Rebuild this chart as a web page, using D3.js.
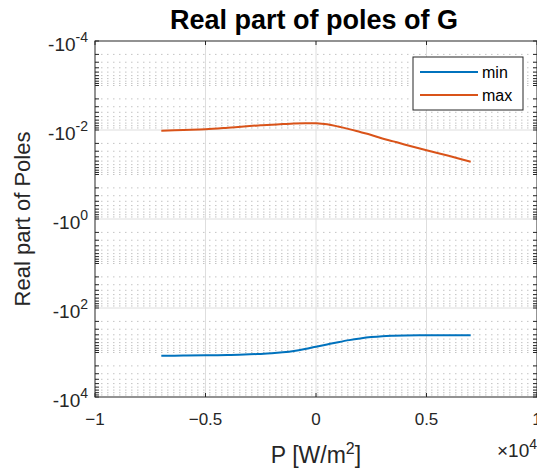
<!DOCTYPE html>
<html>
<head>
<meta charset="utf-8">
<script src="https://cdn.jsdelivr.net/npm/d3@7"></script>
<style>
  body { margin: 0; background: #fff; }
  svg { display: block; font-family: "Liberation Sans", Arial, sans-serif; }
</style>
</head>
<body>
<div id="chart"></div>
<script>
// data (P in W/m^2, real part of poles)
const powers = [-7000, -6000, -5000, -4000, -3000, -2500, -2000, -1500, -1000, -500, 0, 500, 1000, 1500, 2000, 2500, 3000, 3500, 4000, 5000, 6000, 7000];
const minPoles = [-1180, -1175, -1156, -1138, -1096, -1074, -1042, -991, -925, -836, -741, -658, -586, -527, -483, -450, -429, -419, -413, -410, -410, -410];
const maxPoles = [-0.0104, -0.0100, -0.00964, -0.00891, -0.00813, -0.00785, -0.00760, -0.00736, -0.00714, -0.00705, -0.00708, -0.00745, -0.00834, -0.00955, -0.0111, -0.0129, -0.0155, -0.0180, -0.0211, -0.0285, -0.0380, -0.0515];
const seriesNames = ["min", "max"];
const seriesColors = ["#0072BD", "#D95319"];
const xTicks = [-10000, -5000, 0, 5000, 10000];
const yTickExps = [-4, -2, 0, 2, 4];

const W = 537, H = 470;
const margin = { top: 41, right: 0, bottom: 73, left: 95 },
      width = 442,
      height = H - margin.top - margin.bottom;

const svg = d3.select("#chart").append("svg")
  .attr("width", W).attr("height", H);

const g = svg.append("g")
  .attr("transform", `translate(${margin.left},${margin.top})`);

const x = d3.scaleLinear().domain([-10000, 10000]).range([0, width]);
const y = d3.scaleLog().domain([-1e4, -1e-4]).range([height, 0]);

// minor grid values: every m*10^k
const minorVals = [];
for (let k = -4; k < 4; k++) {
  for (let m = 1; m <= 9; m++) {
    if (m === 1 && k % 2 === 0) continue;
    minorVals.push(-m * Math.pow(10, k));
  }
}

// minor grid (dotted)
g.append("g").selectAll("line")
  .data(minorVals)
  .enter().append("line")
  .attr("x1", 0).attr("x2", width)
  .attr("y1", d => y(d)).attr("y2", d => y(d))
  .attr("stroke", "#c4c4c4")
  .attr("stroke-width", 1)
  .attr("stroke-dasharray", "1.5,4.5");

// major grid
g.append("g").selectAll("line")
  .data(yTickExps.slice(1, -1))
  .enter().append("line")
  .attr("x1", 0).attr("x2", width)
  .attr("y1", d => y(-Math.pow(10, d))).attr("y2", d => y(-Math.pow(10, d)))
  .attr("stroke", "#dedede").attr("stroke-width", 1);

g.append("g").selectAll("line")
  .data(xTicks.slice(1, -1))
  .enter().append("line")
  .attr("x1", d => x(d)).attr("x2", d => x(d))
  .attr("y1", 0).attr("y2", height)
  .attr("stroke", "#dedede").attr("stroke-width", 1);

// curves
const seriesData = [minPoles, maxPoles];
const line = d3.line()
  .x(d => x(d[0]))
  .y(d => y(d[1]))
  .curve(d3.curveCatmullRom.alpha(0.5));

seriesData.forEach((vals, i) => {
  g.append("path")
    .datum(powers.map((p, j) => [p, vals[j]]))
    .attr("fill", "none")
    .attr("stroke", seriesColors[i])
    .attr("stroke-width", 2)
    .attr("d", line);
});

// axes box + ticks
const axisColor = "#262626";
const tickLen = 4;
g.append("rect")
  .attr("x", 0).attr("y", 0).attr("width", width).attr("height", height)
  .attr("fill", "none").attr("stroke", axisColor).attr("stroke-width", 1);

const ticksG = g.append("g").attr("stroke", axisColor).attr("stroke-width", 1);
xTicks.forEach(t => {
  ticksG.append("line").attr("x1", x(t)).attr("x2", x(t)).attr("y1", height).attr("y2", height - tickLen);
  ticksG.append("line").attr("x1", x(t)).attr("x2", x(t)).attr("y1", 0).attr("y2", tickLen);
});
const allY = minorVals.concat(yTickExps.map(e => -Math.pow(10, e)));
allY.forEach(v => {
  ticksG.append("line").attr("x1", 0).attr("x2", tickLen).attr("y1", y(v)).attr("y2", y(v));
  ticksG.append("line").attr("x1", width).attr("x2", width - tickLen).attr("y1", y(v)).attr("y2", y(v));
});

// x tick labels
g.append("g").selectAll("text")
  .data(xTicks)
  .enter().append("text")
  .attr("x", d => x(d))
  .attr("y", height + 28)
  .attr("text-anchor", "middle")
  .attr("font-size", 17)
  .attr("fill", axisColor)
  .text(d => d3.format("")(d / 10000).replace("-", "\u2212"));

// y tick labels with superscripts
yTickExps.forEach(e => {
  const t = g.append("text")
    .attr("x", -7)
    .attr("y", y(-Math.pow(10, e)) + 10)
    .attr("text-anchor", "end")
    .attr("font-size", 19)
    .attr("fill", axisColor);
  t.append("tspan").text("-10");
  t.append("tspan").attr("dy", -9).attr("font-size", 14).text(e);
});

// x exponent label
const ex = svg.append("text")
  .attr("x", 537).attr("y", 457)
  .attr("text-anchor", "end")
  .attr("font-size", 19)
  .attr("fill", axisColor);
ex.append("tspan").text("\u00d710");
ex.append("tspan").attr("dy", -8).attr("font-size", 14).text("4");

// axis labels
const xl = svg.append("text")
  .attr("x", margin.left + x(0)).attr("y", 463)
  .attr("text-anchor", "middle")
  .attr("font-size", 23)
  .attr("fill", axisColor);
xl.append("tspan").text("P [W/m");
xl.append("tspan").attr("dy", -9).attr("font-size", 16).text("2");
xl.append("tspan").attr("dy", 9).text("]");

svg.append("text")
  .attr("transform", `translate(30,${margin.top + height / 2}) rotate(-90)`)
  .attr("text-anchor", "middle")
  .attr("font-size", 22)
  .attr("fill", axisColor)
  .text("Real part of Poles");

// title
svg.append("text")
  .attr("x", margin.left + x(0) - 2).attr("y", 29)
  .attr("text-anchor", "middle")
  .attr("font-size", 27)
  .attr("font-weight", "bold")
  .attr("fill", "#000")
  .text("Real part of poles of G");

// legend at top right
const legend = svg.append("g").attr("transform", "translate(413,57)");
legend.append("rect")
  .attr("width", 110).attr("height", 53)
  .attr("fill", "#fff").attr("stroke", axisColor).attr("stroke-width", 1);
seriesNames.forEach((name, i) => {
  const row = legend.append("g").attr("transform", `translate(0, ${15 + i * 23})`);
  row.append("line").attr("x1", 7).attr("x2", 65).attr("y1", 0).attr("y2", 0)
    .attr("stroke", seriesColors[i]).attr("stroke-width", 2);
  row.append("text").attr("x", 69).attr("y", 6).attr("font-size", 16)
    .attr("fill", "#000").text(name);
});
</script>
</body>
</html>
